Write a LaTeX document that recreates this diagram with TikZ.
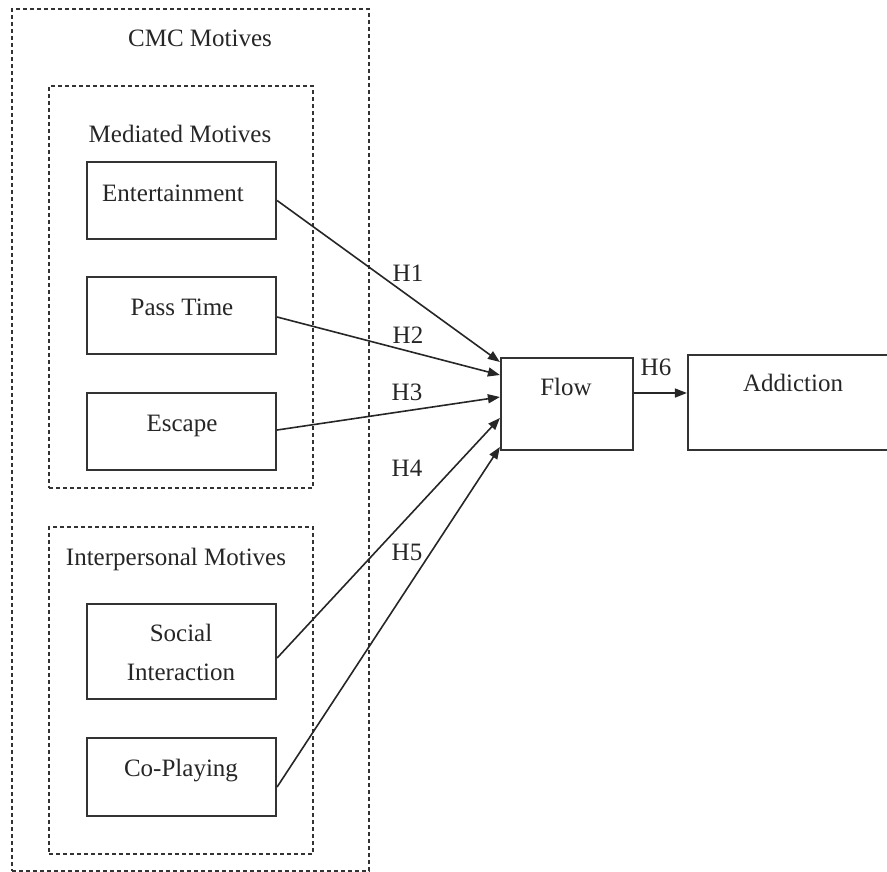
\documentclass[tikz,border=0pt]{standalone}
\usepackage{fontspec}
\setmainfont{Liberation Serif}
\usetikzlibrary{arrows.meta}
\begin{document}
\begin{tikzpicture}[x=1pt,y=-1pt,
  txt/.style={anchor=base,yshift=-8pt,inner sep=0pt,font=\fontsize{25}{30}\selectfont,text=black!85},
  box/.style={draw=black!80,line width=2.2pt,inner sep=0pt,minimum width=189pt},
  grp/.style={draw=black!80,line width=1.7pt,dash pattern=on 4pt off 3pt,inner sep=0pt},
  conn/.style={draw=black!85,line width=1.6pt,-{Triangle[length=12pt,width=9pt]}}]
\useasboundingbox (0,0) rectangle (887,871);
\clip (0,0) rectangle (887,871);
% groups
\node[grp,minimum width=357pt,minimum height=862pt] (cmc) at (190.5,440) {};
\node[grp,minimum width=264pt,minimum height=402pt] (med) at (181,287) {};
\node[grp,minimum width=264pt,minimum height=327pt] (inter) at (181,690.5) {};
\node[txt] (cmct) at (200,38) {CMC Motives};
\node[txt] (medt) at (180,134) {Mediated Motives};
\node[txt] (intt) at (176,557) {Interpersonal Motives};
% boxes
\node[box,minimum height=77pt] (ent) at (181.5,200.5) {};
\node[box,minimum height=77pt] (pass) at (181.5,315.5) {};
\node[box,minimum height=77pt] (esc) at (181.5,431.5) {};
\node[box,minimum height=95pt] (soc) at (181.5,651.5) {};
\node[box,minimum height=78pt] (cop) at (181.5,777) {};
\node[box,minimum width=132pt,minimum height=92pt] (flow) at (567,404) {};
\node[box,minimum width=212pt,minimum height=95pt] (add) at (794,402.5) {};
\node[txt] (entt) at (173,193) {Entertainment};
\node[txt] (passt) at (182,307) {Pass Time};
\node[txt] (esct) at (182,423) {Escape};
\node[txt] (soct1) at (181,633) {Social};
\node[txt] (soct2) at (181,672) {Interaction};
\node[txt] (copt) at (181,768) {Co-Playing};
\node[txt] (flowt) at (566,387) {Flow};
\node[txt] (addt) at (793,383) {Addiction};
% connectors
\draw[conn] (ent.east) -- ([yshift=42pt]flow.west);
\draw[conn] ([yshift=-1.5pt]pass.east) -- ([yshift=29pt]flow.west);
\draw[conn] ([yshift=1.5pt]esc.east) -- ([yshift=7pt]flow.west);
\draw[conn] ([yshift=-6.5pt]soc.east) -- ([yshift=-14pt]flow.west);
\draw[conn] ([yshift=-10pt]cop.east) -- ([yshift=-43pt]flow.west);
\draw[conn] ([yshift=11pt]flow.east) -- ([yshift=11pt]flow.east -| add.west);
% labels
\node[txt] (h1) at (408,273) {H1};
\node[txt] (h2) at (408,335) {H2};
\node[txt] (h3) at (407,392) {H3};
\node[txt] (h4) at (407,468) {H4};
\node[txt] (h5) at (407,552) {H5};
\node[txt] (h6) at (656,367) {H6};
\end{tikzpicture}
\end{document}
